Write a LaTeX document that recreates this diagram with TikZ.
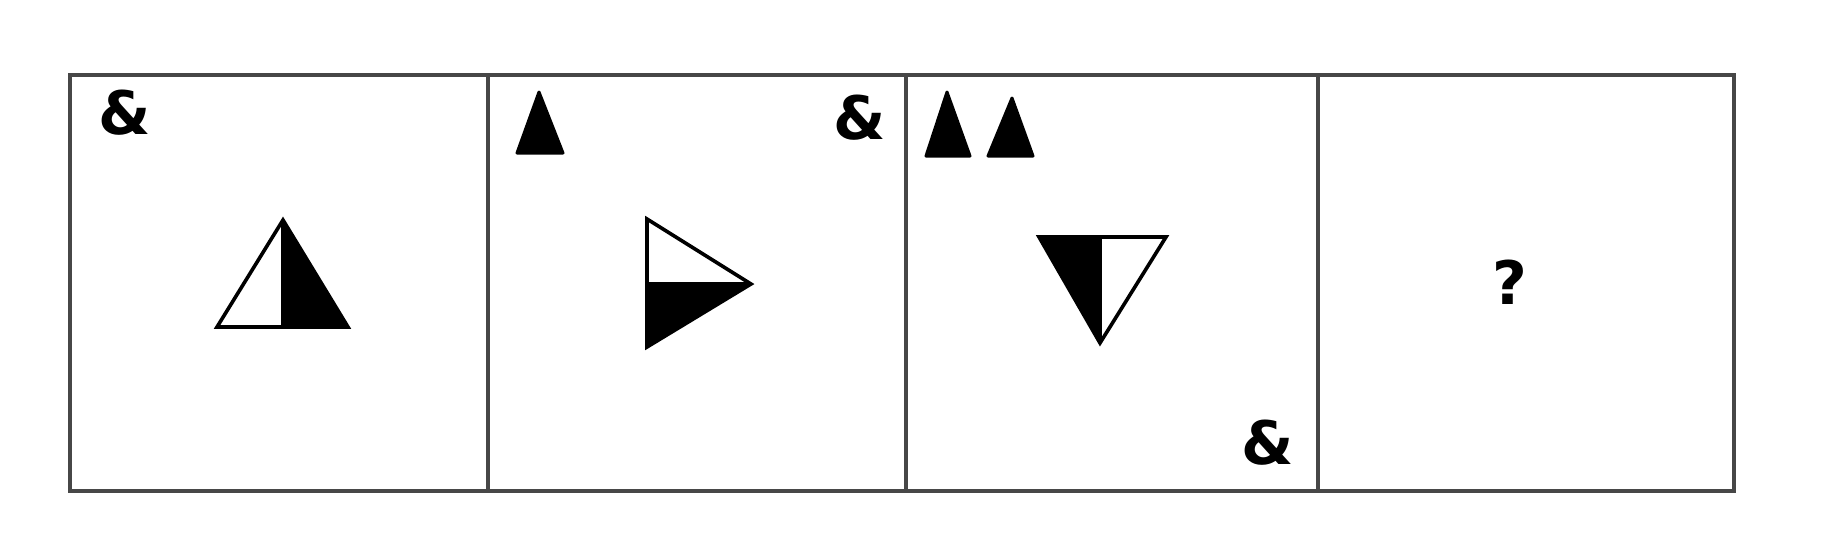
\documentclass[tikz,border=0pt]{standalone}
\usepackage{fontspec}
\setmainfont{DejaVu Sans}
\begin{document}
\begin{tikzpicture}[x=0.5pt,y=-0.5pt,
  frame/.style={draw=black!72, line width=2pt},
  outline/.style={draw=black, line width=1.8pt, line join=miter},
  blackpart/.style={fill=black},
  whitepart/.style={fill=white},
  smalltri/.style={fill=black, draw=black, line width=1.5pt, line join=round},
  sym/.style={font=\fontsize{30}{36}\selectfont\bfseries, inner sep=0pt, text=black}]
\useasboundingbox (0,0) rectangle (1828,548);
\fill[white] (0,0) rectangle (1828,548);
% frame
\coordinate (tl) at (70,75);
\coordinate (br) at (1734,491);
\draw[frame] (tl) rectangle (br);
\draw[frame] (488,75) -- (488,491);
\draw[frame] (906,75) -- (906,491);
\draw[frame] (1318,75) -- (1318,491);
% panel 1
\node[sym] (amp1) at (125,113) {\&};
\fill[whitepart] (217,327) -- (283,220) -- (283,327) -- cycle;
\fill[blackpart] (283,220) -- (348,327) -- (283,327) -- cycle;
\draw[outline] (217,327) -- (283,220) -- (348,327) -- cycle (283,220) -- (283,327);
% panel 2
\draw[smalltri] (539,92) -- (563,153) -- (517,153) -- cycle;
\node[sym] (amp2) at (860,118) {\&};
\fill[whitepart] (647,219) -- (751,284) -- (647,284) -- cycle;
\fill[blackpart] (647,284) -- (751,284) -- (647,347) -- cycle;
\draw[outline] (647,219) -- (751,284) -- (647,347) -- cycle (647,284) -- (751,284);
% panel 3
\draw[smalltri] (947,92) -- (970,156) -- (926,156) -- cycle;
\draw[smalltri] (1012,98) -- (1033,156) -- (988,156) -- cycle;
\fill[blackpart] (1039,237) -- (1100,237) -- (1100,343) -- cycle;
\fill[whitepart] (1100,237) -- (1166,237) -- (1100,343) -- cycle;
\draw[outline] (1039,237) -- (1166,237) -- (1100,343) -- cycle (1100,237) -- (1100,343);
\node[sym] (amp3) at (1268,443) {\&};
% panel 4
\node[sym] (q) at (1510,282) {?};
\end{tikzpicture}
\end{document}
